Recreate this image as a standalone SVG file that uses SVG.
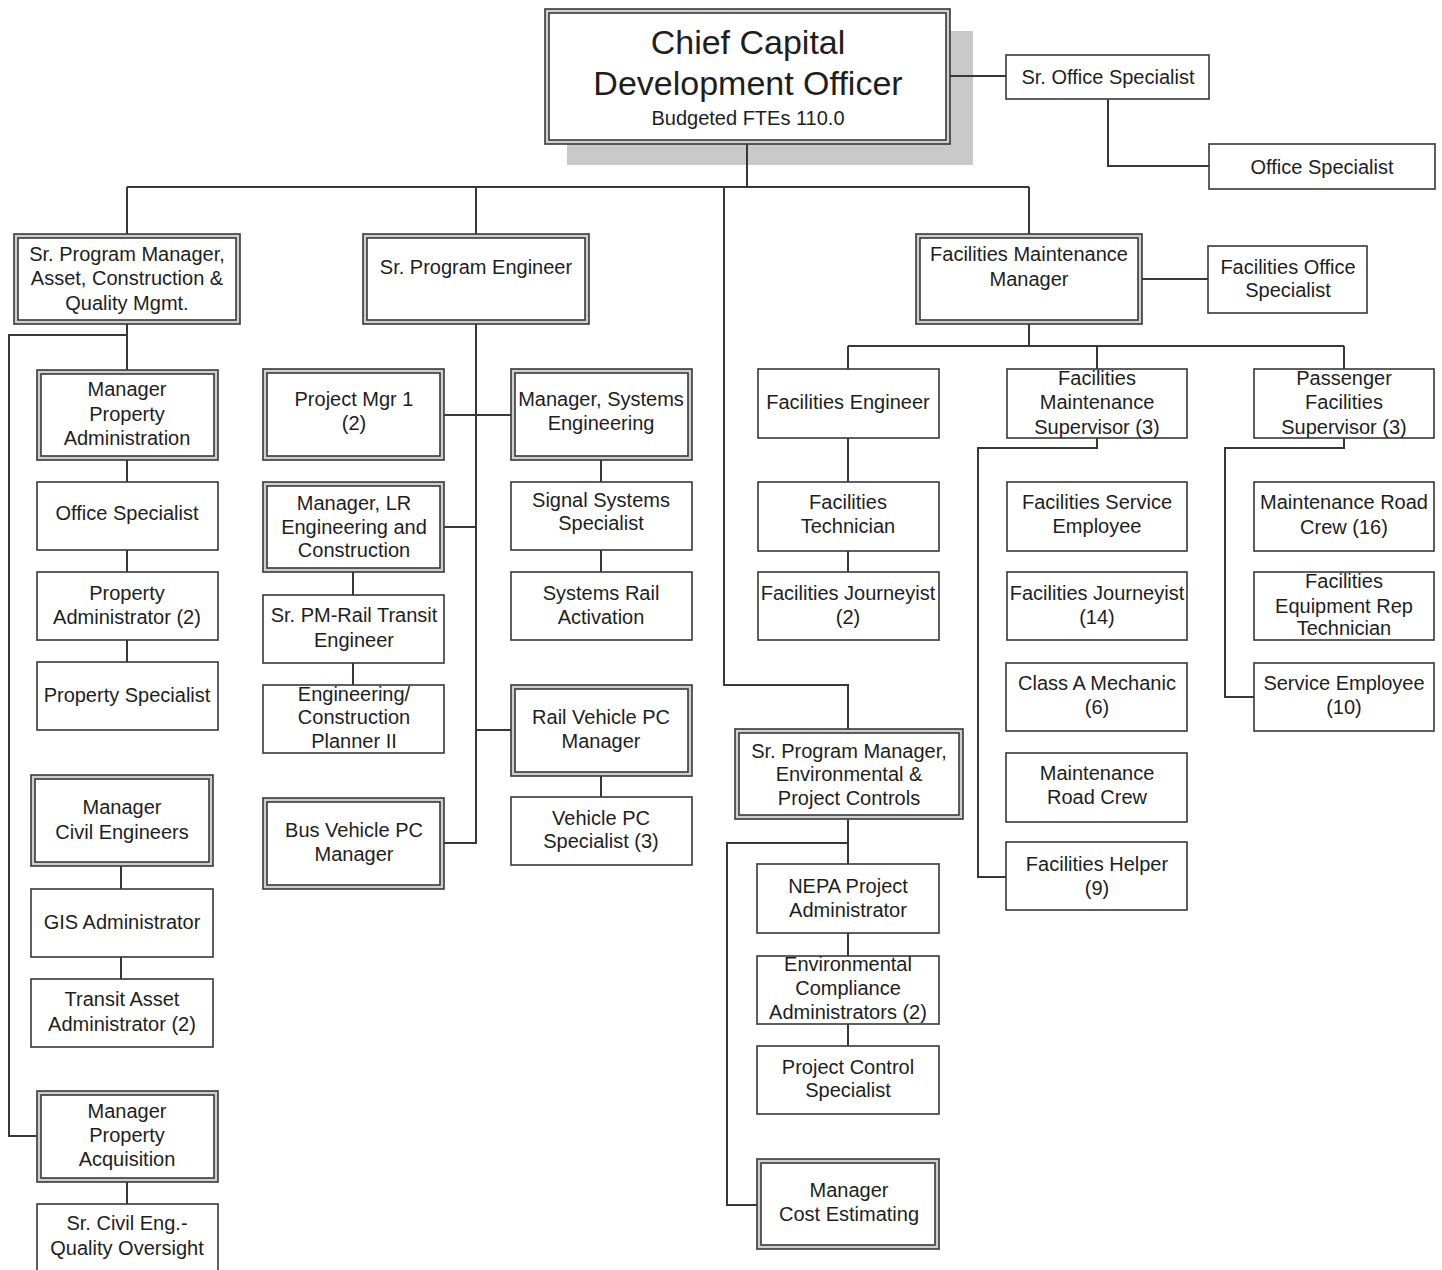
<svg xmlns="http://www.w3.org/2000/svg" width="1442" height="1270" viewBox="0 0 1442 1270">
  <style>
    .bg { fill: #ffffff; }
    .box { fill: #ffffff; stroke: #383838; stroke-width: 1.6; }
    .outer { fill: #cfcfcf; stroke: #383838; stroke-width: 1.6; }
    .inner { fill: #ffffff; stroke: #383838; stroke-width: 1.6; }
    .shadow { fill: #c9c9c9; }
    .wire { fill: none; stroke: #383838; stroke-width: 2; }
    text { font-family: "Liberation Sans", Arial, sans-serif; font-size: 20px; fill: #1e1e1e; text-anchor: middle; }
    .big { font-size: 34px; }
  </style>

  <rect class="bg" x="0" y="0" width="1442" height="1270"/>

  <!-- top: drawn first so its drop shadow sits under the connector lines -->
  <g id="chief">
    <rect class="shadow" x="567" y="31" width="406" height="134"/>
    <rect class="outer" x="545" y="9" width="405" height="135"/>
    <rect class="inner" x="549" y="13" width="397" height="127"/>
    <text class="big" x="748" y="54">Chief Capital</text>
    <text class="big" x="748" y="95">Development Officer</text>
    <text x="748" y="125">Budgeted FTEs 110.0</text>
  </g>

  <!-- connectors -->
  <g id="connectors">
    <path class="wire" d="M747,144 V187 M127,187 H1029 M127,187 V234 M476,187 V234 M724,187 V685 H848 V729 M1029,187 V234"/>
    <path class="wire" d="M950,76 H1006 M1108,99 V166 H1209"/>
    <path class="wire" d="M127,324 V370 M127,335 H9 V1136 H37 M127,460 V482 M127,550 V572 M127,640 V662 M121,866 V889 M121,957 V979 M127,1182 V1204"/>
    <path class="wire" d="M476,324 V843 H444 M444,415 H511 M444,527 H476 M476,730 H511 M601,460 V482 M601,550 V572 M353,572 V595 M353,663 V685 M601,776 V797"/>
    <path class="wire" d="M848,819 V864 M848,843 H727 V1205 H757 M848,933 V956 M848,1024 V1046"/>
    <path class="wire" d="M1142,279 H1208 M1029,324 V346 M848,346 H1344 M848,346 V369 M1097,346 V369 M1344,346 V369 M848,438 V482 M848,551 V572 M1097,438 V448 H978 V877 H1006 M1344,438 V448 H1225 V697 H1254"/>
  </g>

  <g id="sr-office-specialist">
    <rect class="box" x="1006" y="55" width="203" height="44"/>
    <text x="1108" y="84">Sr. Office Specialist</text>
  </g>
  <g id="office-specialist-top">
    <rect class="box" x="1209" y="144" width="226" height="45"/>
    <text x="1322" y="174">Office Specialist</text>
  </g>

  <!-- asset, construction & quality column -->
  <g id="sr-pm-asset">
    <rect class="outer" x="14" y="234" width="226" height="90"/>
    <rect class="inner" x="18" y="238" width="218" height="82"/>
    <text x="127" y="261">Sr. Program Manager,</text>
    <text x="127" y="285">Asset, Construction &amp;</text>
    <text x="127" y="310">Quality Mgmt.</text>
  </g>
  <g id="mgr-property-admin">
    <rect class="outer" x="37" y="370" width="181" height="90"/>
    <rect class="inner" x="41" y="374" width="173" height="82"/>
    <text x="127" y="396">Manager</text>
    <text x="127" y="421">Property</text>
    <text x="127" y="445">Administration</text>
  </g>
  <g id="office-specialist-left">
    <rect class="box" x="37" y="482" width="181" height="68"/>
    <text x="127" y="520">Office Specialist</text>
  </g>
  <g id="property-administrator">
    <rect class="box" x="37" y="572" width="181" height="68"/>
    <text x="127" y="600">Property</text>
    <text x="127" y="624">Administrator (2)</text>
  </g>
  <g id="property-specialist">
    <rect class="box" x="37" y="662" width="181" height="68"/>
    <text x="127" y="702">Property Specialist</text>
  </g>
  <g id="mgr-civil-engineers">
    <rect class="outer" x="31" y="775" width="182" height="91"/>
    <rect class="inner" x="35" y="779" width="174" height="83"/>
    <text x="122" y="814">Manager</text>
    <text x="122" y="839">Civil Engineers</text>
  </g>
  <g id="gis-administrator">
    <rect class="box" x="31" y="889" width="182" height="68"/>
    <text x="122" y="929">GIS Administrator</text>
  </g>
  <g id="transit-asset-admin">
    <rect class="box" x="31" y="979" width="182" height="68"/>
    <text x="122" y="1006">Transit Asset</text>
    <text x="122" y="1031">Administrator (2)</text>
  </g>
  <g id="mgr-property-acquisition">
    <rect class="outer" x="37" y="1091" width="181" height="91"/>
    <rect class="inner" x="41" y="1095" width="173" height="83"/>
    <text x="127" y="1118">Manager</text>
    <text x="127" y="1142">Property</text>
    <text x="127" y="1166">Acquisition</text>
  </g>
  <g id="sr-civil-eng">
    <rect class="box" x="37" y="1204" width="181" height="72"/>
    <text x="127" y="1230">Sr. Civil Eng.-</text>
    <text x="127" y="1255">Quality Oversight</text>
  </g>

  <!-- program engineering column -->
  <g id="sr-program-engineer">
    <rect class="outer" x="363" y="234" width="226" height="90"/>
    <rect class="inner" x="367" y="238" width="218" height="82"/>
    <text x="476" y="274">Sr. Program Engineer</text>
  </g>
  <g id="project-mgr-1">
    <rect class="outer" x="263" y="369" width="181" height="91"/>
    <rect class="inner" x="267" y="373" width="173" height="83"/>
    <text x="354" y="406">Project Mgr 1</text>
    <text x="354" y="430">(2)</text>
  </g>
  <g id="mgr-systems-engineering">
    <rect class="outer" x="511" y="369" width="181" height="91"/>
    <rect class="inner" x="515" y="373" width="173" height="83"/>
    <text x="601" y="406">Manager, Systems</text>
    <text x="601" y="430">Engineering</text>
  </g>
  <g id="mgr-lr-engineering">
    <rect class="outer" x="263" y="482" width="181" height="90"/>
    <rect class="inner" x="267" y="486" width="173" height="82"/>
    <text x="354" y="510">Manager, LR</text>
    <text x="354" y="534">Engineering and</text>
    <text x="354" y="557">Construction</text>
  </g>
  <g id="signal-systems-specialist">
    <rect class="box" x="511" y="482" width="181" height="68"/>
    <text x="601" y="507">Signal Systems</text>
    <text x="601" y="530">Specialist</text>
  </g>
  <g id="systems-rail-activation">
    <rect class="box" x="511" y="572" width="181" height="68"/>
    <text x="601" y="600">Systems Rail</text>
    <text x="601" y="624">Activation</text>
  </g>
  <g id="sr-pm-rail-transit">
    <rect class="box" x="263" y="595" width="181" height="68"/>
    <text x="354" y="622">Sr. PM-Rail Transit</text>
    <text x="354" y="647">Engineer</text>
  </g>
  <g id="eng-construction-planner">
    <rect class="box" x="263" y="685" width="181" height="68"/>
    <text x="354" y="701">Engineering/</text>
    <text x="354" y="724">Construction</text>
    <text x="354" y="748">Planner II</text>
  </g>
  <g id="rail-vehicle-pc-mgr">
    <rect class="outer" x="511" y="685" width="181" height="91"/>
    <rect class="inner" x="515" y="689" width="173" height="83"/>
    <text x="601" y="724">Rail Vehicle PC</text>
    <text x="601" y="748">Manager</text>
  </g>
  <g id="vehicle-pc-specialist">
    <rect class="box" x="511" y="797" width="181" height="68"/>
    <text x="601" y="825">Vehicle PC</text>
    <text x="601" y="848">Specialist (3)</text>
  </g>
  <g id="bus-vehicle-pc-mgr">
    <rect class="outer" x="263" y="798" width="181" height="91"/>
    <rect class="inner" x="267" y="802" width="173" height="83"/>
    <text x="354" y="837">Bus Vehicle PC</text>
    <text x="354" y="861">Manager</text>
  </g>

  <!-- environmental & project controls column -->
  <g id="sr-pm-environmental">
    <rect class="outer" x="735" y="729" width="228" height="90"/>
    <rect class="inner" x="739" y="733" width="220" height="82"/>
    <text x="849" y="758">Sr. Program Manager,</text>
    <text x="849" y="781">Environmental &amp;</text>
    <text x="849" y="805">Project Controls</text>
  </g>
  <g id="nepa-project-admin">
    <rect class="box" x="757" y="864" width="182" height="69"/>
    <text x="848" y="893">NEPA Project</text>
    <text x="848" y="917">Administrator</text>
  </g>
  <g id="env-compliance-admin">
    <rect class="box" x="757" y="956" width="182" height="68"/>
    <text x="848" y="971">Environmental</text>
    <text x="848" y="995">Compliance</text>
    <text x="848" y="1019">Administrators (2)</text>
  </g>
  <g id="project-control-specialist">
    <rect class="box" x="757" y="1046" width="182" height="68"/>
    <text x="848" y="1074">Project Control</text>
    <text x="848" y="1097">Specialist</text>
  </g>
  <g id="mgr-cost-estimating">
    <rect class="outer" x="757" y="1159" width="182" height="90"/>
    <rect class="inner" x="761" y="1163" width="174" height="82"/>
    <text x="849" y="1197">Manager</text>
    <text x="849" y="1221">Cost Estimating</text>
  </g>

  <!-- facilities maintenance -->
  <g id="facilities-maintenance-mgr">
    <rect class="outer" x="916" y="234" width="226" height="90"/>
    <rect class="inner" x="920" y="238" width="218" height="82"/>
    <text x="1029" y="261">Facilities Maintenance</text>
    <text x="1029" y="286">Manager</text>
  </g>
  <g id="facilities-office-specialist">
    <rect class="box" x="1208" y="246" width="159" height="67"/>
    <text x="1288" y="274">Facilities Office</text>
    <text x="1288" y="297">Specialist</text>
  </g>
  <g id="facilities-engineer">
    <rect class="box" x="758" y="369" width="181" height="69"/>
    <text x="848" y="409">Facilities Engineer</text>
  </g>
  <g id="facilities-technician">
    <rect class="box" x="758" y="482" width="181" height="69"/>
    <text x="848" y="509">Facilities</text>
    <text x="848" y="533">Technician</text>
  </g>
  <g id="facilities-journeyist-2">
    <rect class="box" x="758" y="572" width="181" height="68"/>
    <text x="848" y="600">Facilities Journeyist</text>
    <text x="848" y="624">(2)</text>
  </g>
  <g id="facilities-maint-supervisor">
    <rect class="box" x="1007" y="369" width="180" height="69"/>
    <text x="1097" y="385">Facilities</text>
    <text x="1097" y="409">Maintenance</text>
    <text x="1097" y="434">Supervisor (3)</text>
  </g>
  <g id="facilities-service-employee">
    <rect class="box" x="1007" y="482" width="180" height="69"/>
    <text x="1097" y="509">Facilities Service</text>
    <text x="1097" y="533">Employee</text>
  </g>
  <g id="facilities-journeyist-14">
    <rect class="box" x="1007" y="572" width="180" height="68"/>
    <text x="1097" y="600">Facilities Journeyist</text>
    <text x="1097" y="624">(14)</text>
  </g>
  <g id="class-a-mechanic">
    <rect class="box" x="1006" y="663" width="181" height="68"/>
    <text x="1097" y="690">Class A Mechanic</text>
    <text x="1097" y="714">(6)</text>
  </g>
  <g id="maintenance-road-crew">
    <rect class="box" x="1006" y="753" width="181" height="69"/>
    <text x="1097" y="780">Maintenance</text>
    <text x="1097" y="804">Road Crew</text>
  </g>
  <g id="facilities-helper">
    <rect class="box" x="1006" y="842" width="181" height="68"/>
    <text x="1097" y="871">Facilities Helper</text>
    <text x="1097" y="895">(9)</text>
  </g>
  <g id="passenger-facilities-supervisor">
    <rect class="box" x="1254" y="369" width="180" height="69"/>
    <text x="1344" y="385">Passenger</text>
    <text x="1344" y="409">Facilities</text>
    <text x="1344" y="434">Supervisor (3)</text>
  </g>
  <g id="maintenance-road-crew-16">
    <rect class="box" x="1254" y="482" width="180" height="69"/>
    <text x="1344" y="509">Maintenance Road</text>
    <text x="1344" y="534">Crew (16)</text>
  </g>
  <g id="facilities-equipment-rep">
    <rect class="box" x="1254" y="572" width="180" height="68"/>
    <text x="1344" y="588">Facilities</text>
    <text x="1344" y="613">Equipment Rep</text>
    <text x="1344" y="635">Technician</text>
  </g>
  <g id="service-employee-10">
    <rect class="box" x="1254" y="663" width="180" height="68"/>
    <text x="1344" y="690">Service Employee</text>
    <text x="1344" y="714">(10)</text>
  </g>
</svg>
